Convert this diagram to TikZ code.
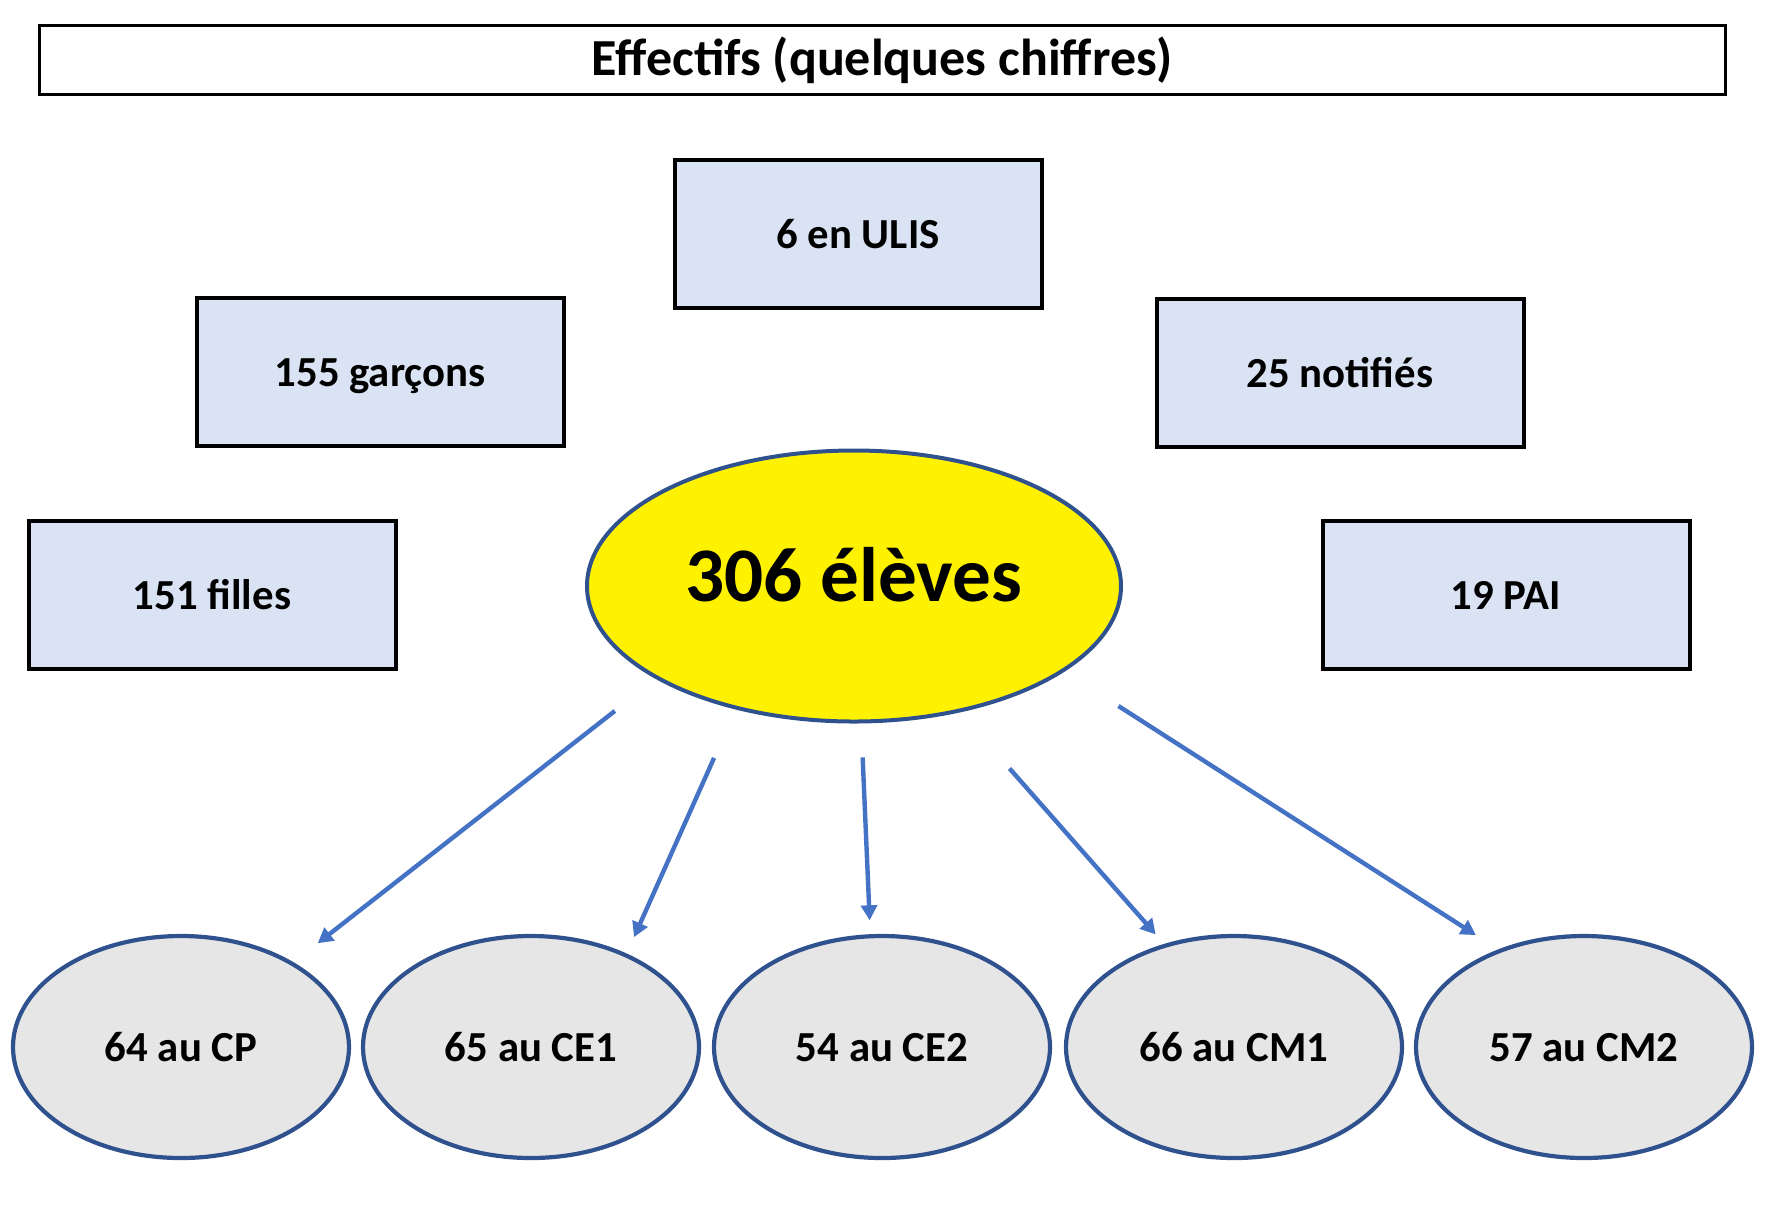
\documentclass[tikz,border=0pt]{standalone}
\usepackage{fontspec}
\setmainfont{Carlito}
\usepackage{tikz}
\usetikzlibrary{arrows.meta, shapes.geometric}
\definecolor{boxblue}{HTML}{DAE3F3}
\definecolor{darkblue}{HTML}{2F528F}
\definecolor{arrowblue}{HTML}{4472C4}
\definecolor{ellgray}{HTML}{E7E6E6}

\begin{document}
\begin{tikzpicture}[x=0.5pt, y=-0.5pt,
        texte/.style={font=\bfseries\fontsize{21.4}{24}\selectfont, text height=20.3pt, text depth=5.8pt},
        boite/.style={texte, draw=black, line width=2pt, fill=boxblue, minimum width=183.5pt, minimum height=74pt, inner sep=0pt, outer sep=0pt},
        classe/.style={texte, ellipse, draw=darkblue, line width=2.1pt, fill=ellgray, minimum width=168pt, minimum height=111pt, inner sep=0pt, outer sep=0pt},
        fleche/.style={draw=arrowblue, line width=2.2pt, -{Triangle[length=7.5pt,width=8pt]}}]
        \useasboundingbox (0,0) rectangle (1771,1223);
        
        \node[draw=black, line width=1.5pt, minimum width=843pt, minimum height=34.5pt, inner sep=0pt, font=\bfseries\fontsize{26}{30}\selectfont] (titre) at (882.5,60) {Effectifs (quelques chiffres)};
        
        \node[boite] (ulis) at (858,234) {6 en ULIS};
        \node[boite] (garcons) at (380,372) {155 garçons};
        \node[boite] (notifies) at (1340,373) {25 notifiés};
        \node[boite] (filles) at (212,595) {151 filles};
        \node[boite] (pai) at (1506,595) {19 PAI};
        
        \node[ellipse, draw=darkblue, line width=2pt, fill=yellow, minimum width=267pt, minimum height=135.5pt, inner sep=0pt, outer sep=0pt, font=\bfseries\fontsize{38.6}{44}\selectfont, text height=25.5pt, text depth=10.4pt] (eleves) at (854,586) {306 élèves};
        
        \node[classe] (cp) at (181,1047) {64 au CP};
        \node[classe] (ceun) at (531,1047) {65 au CE1};
        \node[classe] (cedeux) at (882,1047) {54 au CE2};
        \node[classe] (cmun) at (1234,1047) {66 au CM1};
        \node[classe] (cmdeux) at (1584,1047) {57 au CM2};
        
        \draw[fleche, shorten <=27pt, shorten >=16.5pt] (eleves.205) -- (cp.37);
        \draw[fleche, shorten <=27.5pt, shorten >=10pt] (eleves.226) -- (ceun.44);
        \draw[fleche, shorten <=18pt, shorten >=8pt] (eleves.273) -- (cedeux.96);
        \draw[fleche, shorten <=38.5pt, shorten >=7.5pt] (eleves.310) -- (cmun.124);
        \draw[fleche, shorten <=33pt, shorten >=14.5pt] (eleves.338) -- (cmdeux.131);
    \end{tikzpicture}
\end{document}
